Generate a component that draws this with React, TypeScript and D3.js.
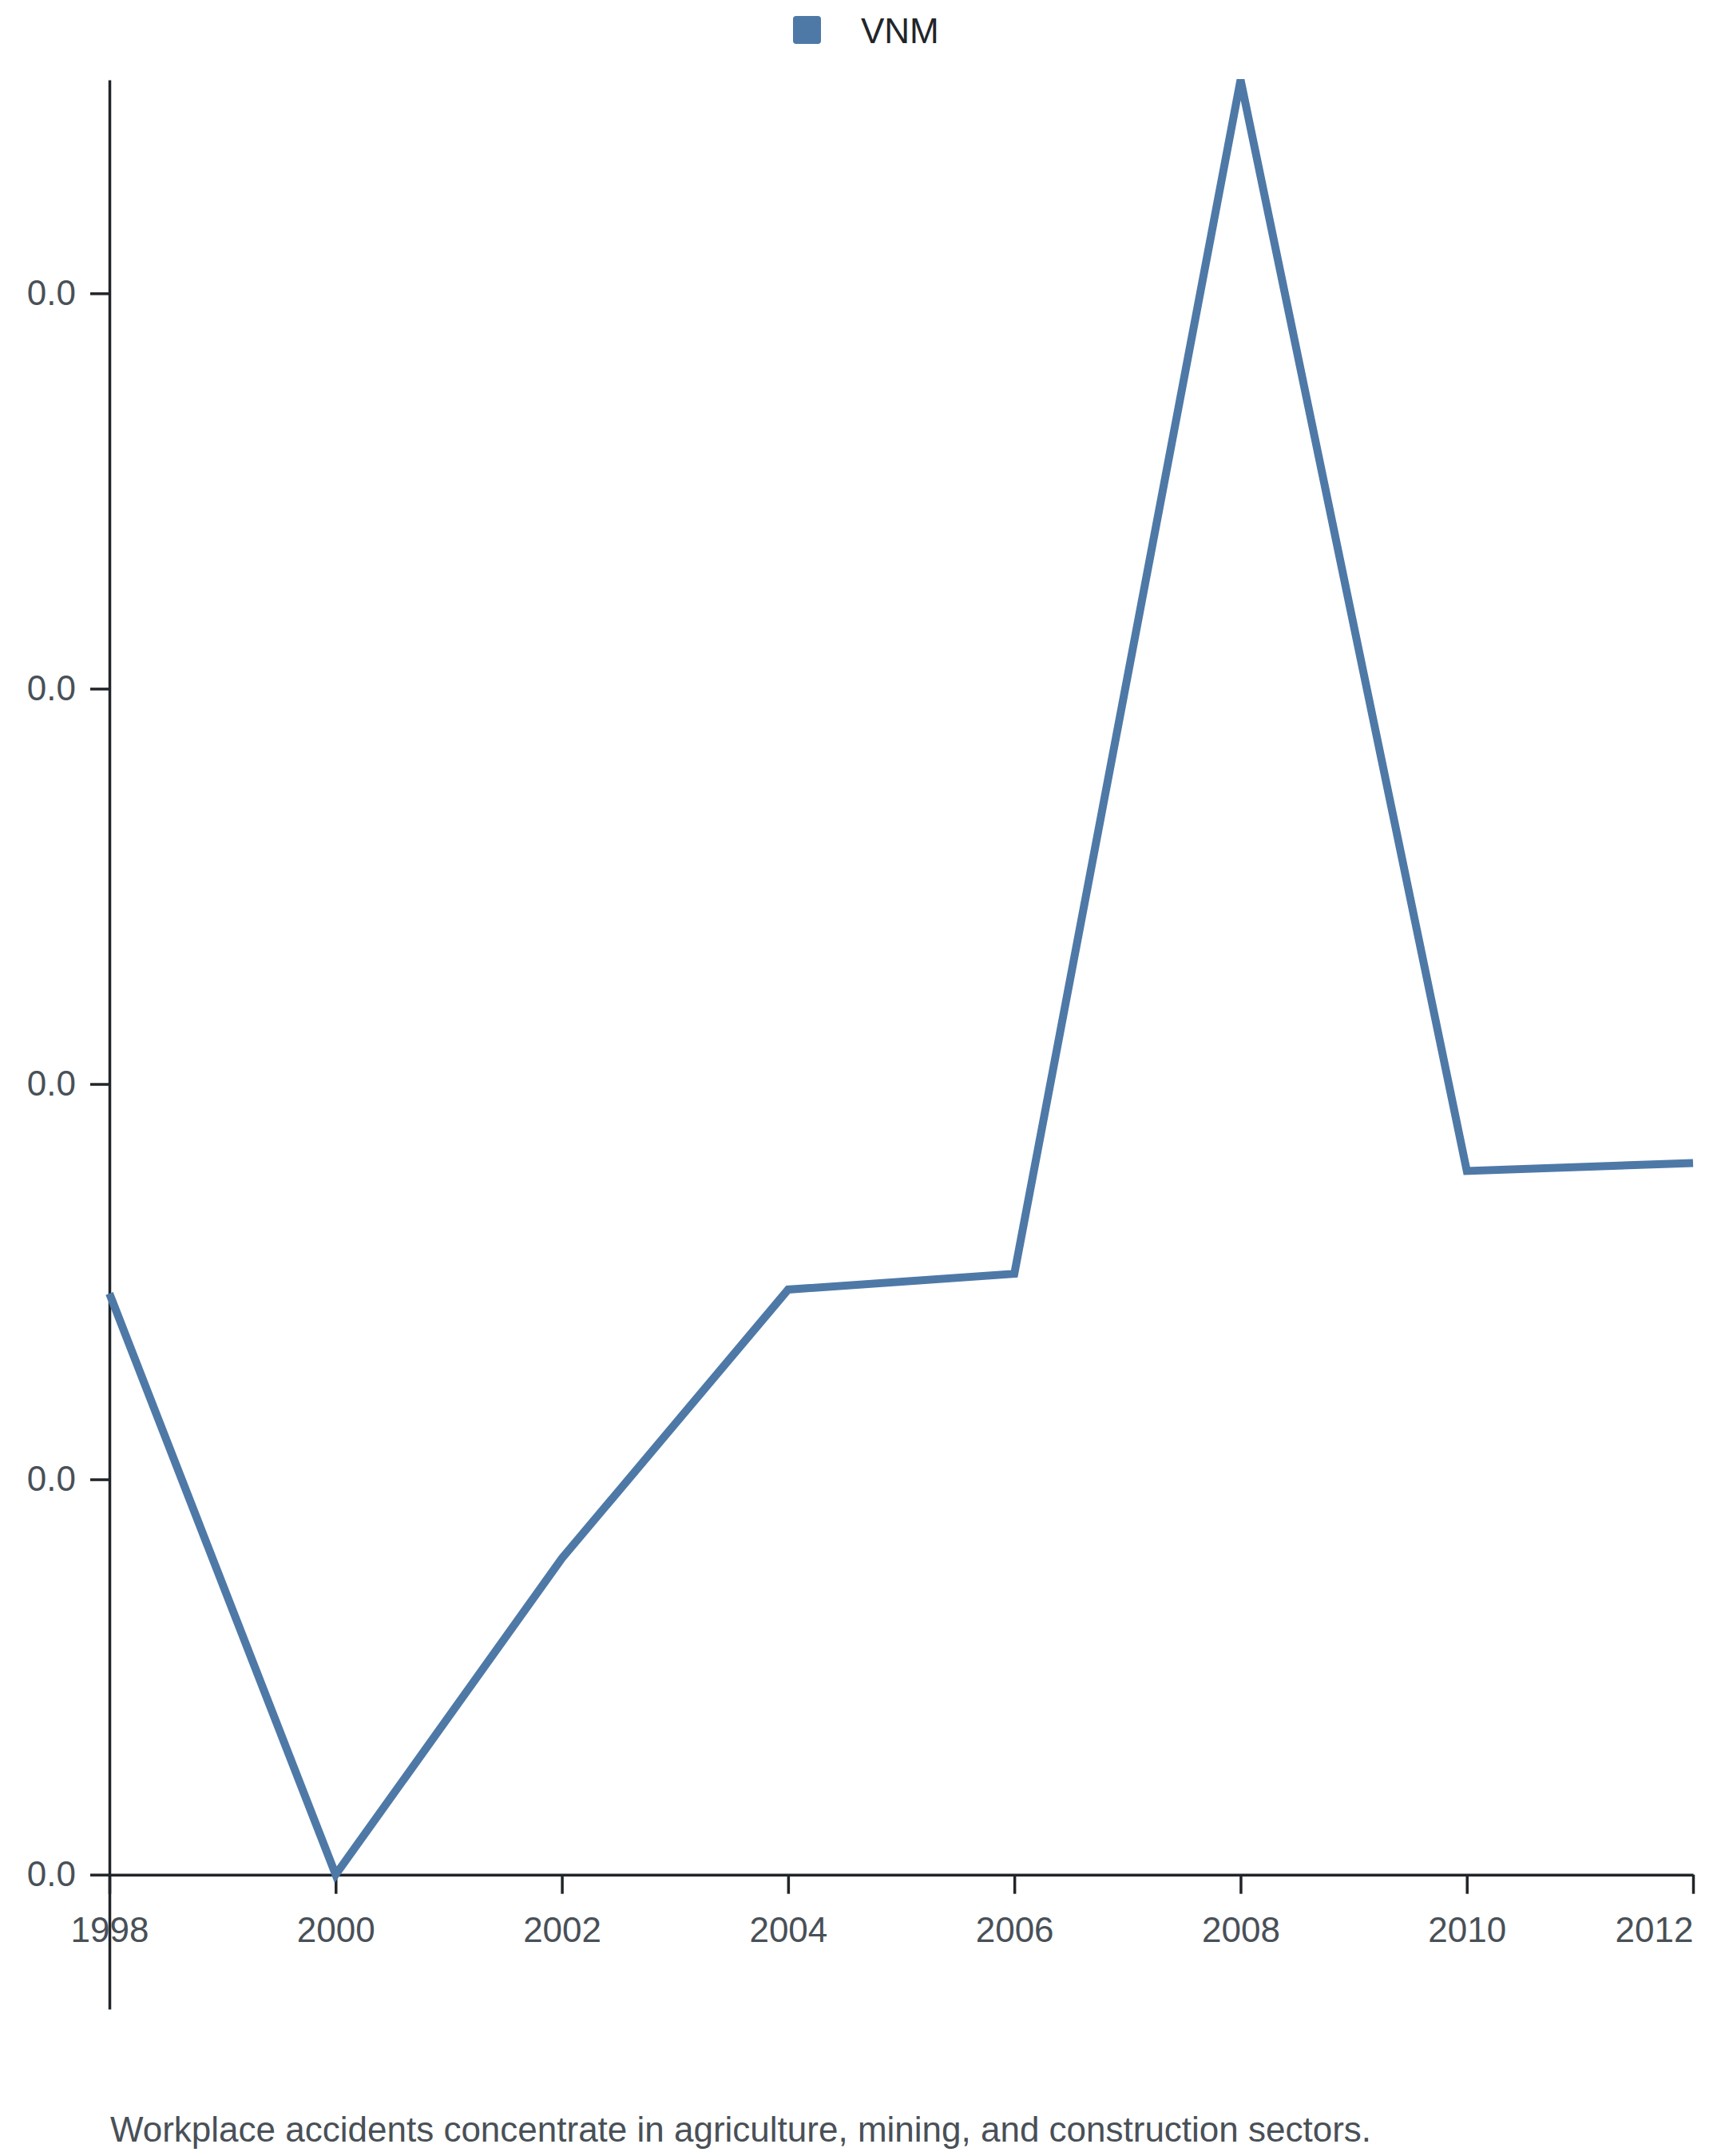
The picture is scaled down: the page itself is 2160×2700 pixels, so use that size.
import * as d3 from 'd3'
import { useEffect, useRef } from 'react'

const years = [1998, 2000, 2002, 2004, 2006, 2008, 2010, 2012]
const vnm = [0.0147, 0.0, 0.008, 0.0148, 0.0152, 0.0454, 0.0178, 0.018]
const seriesName = 'VNM'
const caption = 'Workplace accidents concentrate in agriculture, mining, and construction sectors.'

const width = 2160
const height = 2700
const marginTop = 100
const marginRight = 40
const marginLeft = 137
const plotBottom = 2516
const color = '#4e79a7'
const font = 'Arial, "Liberation Sans", Helvetica, sans-serif'
const fontSize = 44

export default function App() {
  const x = d3.scaleLinear([d3.min(years)!, d3.max(years)!], [marginLeft, width - marginRight])
  const y = d3.scaleLinear([-0.0034, d3.max(vnm)!], [plotBottom, marginTop])
  const line = d3.line<number>((d, i) => x(years[i]), (d) => y(d))
  const gxRef = useRef<SVGGElement>(null)
  const gyRef = useRef<SVGGElement>(null)

  useEffect(() => {
    if (!gxRef.current) return
    const g = d3.select(gxRef.current)
    g.call(d3.axisBottom(x).tickValues(years).tickFormat(d3.format('d')).tickSize(24).tickSizeOuter(0).tickPadding(29))
    g.selectAll('path, line').attr('stroke', '#212529').attr('stroke-width', 3.5)
    g.selectAll('text').attr('fill', '#495057').attr('font-size', fontSize).attr('font-family', font)
    g.selectAll<SVGTextElement, number>('text')
      .filter((d) => d === d3.max(years))
      .attr('text-anchor', 'end')
  }, [x])

  useEffect(() => {
    if (!gyRef.current) return
    const g = d3.select(gyRef.current)
    g.call(d3.axisLeft(y).ticks(5).tickFormat(d3.format('.1f')).tickSize(24).tickSizeOuter(0).tickPadding(18))
    g.selectAll('path, line').attr('stroke', '#212529').attr('stroke-width', 3.5)
    g.selectAll('text').attr('fill', '#495057').attr('font-size', fontSize).attr('font-family', font)
  }, [y])

  return (
    <svg
      width={width}
      height={height}
      viewBox={`0 0 ${width} ${height}`}
      style={{ position: 'absolute', left: 0, top: 0, background: '#ffffff' }}
    >
      <g transform="translate(993,20)">
        <rect width={35} height={35} rx={4} fill={color} />
        <text x={85} y={34} fontSize={fontSize} fontFamily={font} fill="#212529">
          {seriesName}
        </text>
      </g>
      <g ref={gyRef} transform={`translate(${marginLeft},0)`} />
      <g ref={gxRef} transform={`translate(0,${y(0)})`} />
      <path fill="none" stroke={color} strokeWidth={10} d={line(vnm) || undefined} />
      <text x={138} y={2682} fontSize={fontSize} fontFamily={font} fill="#495057">
        {caption}
      </text>
    </svg>
  )
}
